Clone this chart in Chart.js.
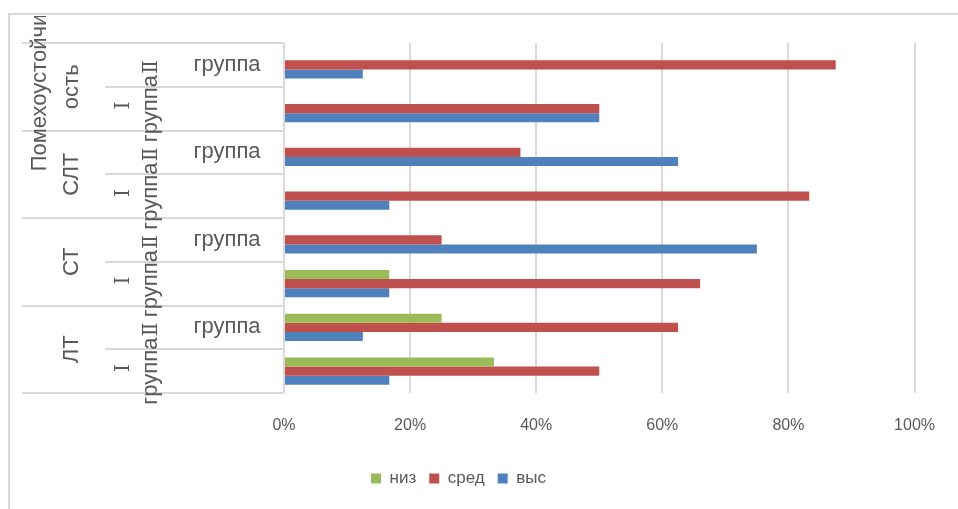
<!DOCTYPE html>
<html>
<head>
<meta charset="utf-8">
<script src="https://cdn.jsdelivr.net/npm/chart.js@4/dist/chart.umd.min.js"></script>
<style>
  body { margin: 0; background: #fff; overflow: hidden; }
  #wrap { position: relative; width: 958px; height: 509px; }
  #frame { position: absolute; left: 8px; top: 13px; width: 1000px; height: 600px; border: 2px solid #d9d9d9; box-sizing: border-box; }
  canvas { position: absolute; left: 0; top: 0; }
</style>
</head>
<body>
<div id="wrap">
  <div id="frame"></div>
  <canvas id="chart" width="958" height="509"></canvas>
</div>
<script>
// --- DATA (rows listed top to bottom, as on the chart) ---
const groups = ['Помехоустойчивость', 'СЛТ', 'СТ', 'ЛТ'];
const subGroups = ['Ⅱ группа', 'Ⅰ группа'];
const categories = [
  'Помехоустойчивость Ⅱ группа', 'Помехоустойчивость Ⅰ группа',
  'СЛТ Ⅱ группа', 'СЛТ Ⅰ группа',
  'СТ Ⅱ группа', 'СТ Ⅰ группа',
  'ЛТ Ⅱ группа', 'ЛТ Ⅰ группа'
];
const nizValues  = [0, 0, 0, 0, 0, 16.7, 25, 33.3];
const sredValues = [87.5, 50, 37.5, 83.3, 25, 66, 62.5, 50];
const vysValues  = [12.5, 50, 62.5, 16.7, 75, 16.7, 12.5, 16.7];
const xTicks = [0, 20, 40, 60, 80, 100];

// --- STYLE ---
const TEXT = '#595959';
const LINE = '#d9d9d9';
const FONT = '"Liberation Sans", "DejaVu Sans", Arial, sans-serif';
const ROMAN = '"DejaVu Serif", serif';

// --- MULTI-LEVEL CATEGORY AXIS (Excel style) ---
const categoryLabels = {
  id: 'categoryLabels',
  afterDraw(chart) {
    const { ctx } = chart;
    const y = chart.scales.y;
    const left = chart.chartArea.left;
    const edge = (k) => y.getPixelForValue(k - 0.5);

    ctx.save();
    ctx.strokeStyle = LINE;
    ctx.lineWidth = 2;
    for (let k = 0; k <= categories.length; k++) {
      const yy = Math.round(edge(k));
      ctx.beginPath();
      ctx.moveTo(k % 2 === 0 ? 22 : 105, yy);
      ctx.lineTo(left, yy);
      ctx.stroke();
    }

    ctx.fillStyle = TEXT;
    ctx.textAlign = 'center';
    ctx.textBaseline = 'middle';

    const vText = (txt, x, cy, font) => {
      ctx.save();
      ctx.font = font;
      ctx.translate(x, cy);
      ctx.rotate(-Math.PI / 2);
      ctx.fillText(txt, 0, 0);
      ctx.restore();
    };

    // level 2
    categories.forEach((c, i) => {
      const cy = y.getPixelForValue(i);
      const parts = subGroups[i % 2].split(' ');
      if (i % 2 === 0) {
        vText(parts[0], 152, cy + 2, '20px ' + ROMAN);
        ctx.font = '22px ' + FONT;
        ctx.fillText(parts[1], 227, cy);
      } else {
        vText(parts[0], 124, cy - 3, '20px ' + ROMAN);
        vText(parts[1], 151, cy, '22px ' + FONT);
      }
    });

    // level 1
    ctx.save();
    ctx.beginPath();
    ctx.rect(0, 16, left, chart.height);
    ctx.clip();
    groups.forEach((g, j) => {
      const cy = (edge(j * 2) + edge(j * 2 + 2)) / 2;
      if (g.length > 10) {
        vText(g.slice(0, 14), 40, cy, '22px ' + FONT);
        vText(g.slice(14), 72, cy, '22px ' + FONT);
      } else {
        vText(g, 72, cy, '22px ' + FONT);
      }
    });
    ctx.restore();
    ctx.restore();
  }
};

new Chart(document.getElementById('chart'), {
  type: 'bar',
  data: {
    labels: categories,
    datasets: [
      { label: 'низ',  data: nizValues,  backgroundColor: '#9BBB59' },
      { label: 'сред', data: sredValues, backgroundColor: '#C0504D' },
      { label: 'выс',  data: vysValues,  backgroundColor: '#4F81BD' }
    ]
  },
  options: {
    indexAxis: 'y',
    responsive: false,
    animation: false,
    categoryPercentage: 0.62,
    barPercentage: 1,
    borderWidth: 0,
    layout: { padding: { left: 0, top: 43, right: 41, bottom: 12 } },
    scales: {
      x: {
        min: 0,
        max: 100,
        afterBuildTicks: (s) => { s.ticks = xTicks.map(v => ({ value: v })); },
        afterFit: (s) => { s.height = 64; },
        grid: { color: LINE, lineWidth: 2, drawTicks: false },
        border: { display: false },
        ticks: {
          padding: 23,
          color: TEXT,
          font: { size: 16, family: FONT },
          callback: (v) => v + '%'
        }
      },
      y: {
        afterFit: (s) => { s.width = 284; },
        grid: { display: false },
        border: { display: false },
        ticks: { display: false }
      }
    },
    plugins: {
      legend: {
        position: 'bottom',
        labels: {
          boxWidth: 10,
          boxHeight: 10,
          padding: 13,
          color: TEXT,
          font: { size: 17, family: FONT }
        }
      },
      tooltip: { enabled: false }
    }
  },
  plugins: [categoryLabels]
});
</script>
</body>
</html>
